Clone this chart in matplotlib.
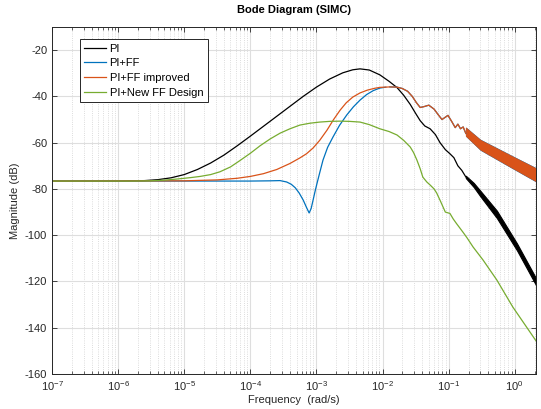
import numpy as np
import matplotlib.pyplot as plt

plt.rcParams['font.family'] = ['Liberation Sans', 'DejaVu Sans']
plt.rcParams['mathtext.fontset'] = 'custom'
plt.rcParams['mathtext.rm'] = 'Liberation Sans'
plt.rcParams['mathtext.it'] = 'Liberation Sans'
plt.rcParams['axes.unicode_minus'] = False

# values: log10(frequency in rad/s) and magnitude in dB
pi_logw = [-7, -6, -5.6, -5.4, -5.2, -5.0, -4.8, -4.6, -4.4, -4.2, -4.0, -3.8,
           -3.6, -3.4, -3.2, -3.0, -2.8, -2.6, -2.45, -2.34, -2.2, -2.04, -1.9,
           -1.78, -1.68, -1.58, -1.5, -1.43, -1.36, -1.28, -1.2, -1.13, -1.05,
           -0.98, -0.92, -0.86, -0.80, -0.74]
pi_mag = [-76.6, -76.6, -76.4, -76.0, -75.2, -73.8, -71.6, -68.8, -65.4, -61.4,
          -57.2, -52.9, -48.6, -44.3, -40.0, -36.0, -32.5, -29.8, -28.5, -28.1,
          -28.6, -30.7, -33.5, -36.2, -39.5, -43.5, -47.3, -50.5, -52.8, -54.0,
          -56.5, -60.0, -63.0, -64.8, -66.5, -70.0, -72.0, -74.8]
# dense ripple at high frequency: upper / lower edge of the band
pi_tail_logw = [-0.74, -0.62, -0.52, -0.27, 0.035, 0.33]
pi_tail_hi = [-74.3, -77.4, -80.8, -89.4, -103.6, -119.0]
pi_tail_lo = [-75.3, -79.2, -83.2, -92.6, -106.6, -122.0]

ff_logw = [-7, -4.0, -3.7, -3.55, -3.45, -3.38, -3.32, -3.26, -3.20, -3.15,
           -3.11, -3.08, -3.05, -3.02, -2.99, -2.95, -2.90, -2.83, -2.75, -2.65,
           -2.54, -2.44, -2.34, -2.24, -2.14, -2.04, -1.95]
ff_mag = [-76.6, -76.6, -76.5, -76.4, -77.0, -78.0, -79.5, -81.8, -84.8, -88.0,
          -90.4, -88.5, -84.8, -81.0, -77.5, -73.0, -67.5, -62.0, -57.6, -52.5,
          -48.0, -44.5, -41.6, -39.2, -37.5, -36.4, -36.0]

imp_logw = [-7, -5, -4.5, -4.2, -4.0, -3.8, -3.6, -3.4, -3.25, -3.15, -3.05,
            -2.95, -2.84, -2.74, -2.64, -2.55, -2.45, -2.34, -2.23, -2.12,
            -2.04, -1.95, -1.89, -1.78, -1.70, -1.62, -1.55, -1.49, -1.43,
            -1.37, -1.30, -1.22, -1.15, -1.10, -1.05, -1.01, -0.95, -0.90,
            -0.86, -0.82, -0.78, -0.74]
imp_mag = [-76.6, -76.5, -76.1, -75.4, -74.6, -73.4, -71.6, -69.0, -66.6, -64.8,
           -62.3, -59.0, -54.6, -50.0, -45.9, -42.8, -40.3, -38.5, -37.3, -36.5,
           -36.1, -36.0, -35.9, -36.0, -36.6, -37.8, -40.0, -42.6, -44.8, -44.4,
           -43.8, -45.5, -48.2, -50.0, -49.0, -48.2, -51.0, -53.5, -52.0, -54.0,
           -53.2, -56.0]
imp_tail_logw = [-0.74, -0.52, -0.03, 0.33]
imp_tail_hi = [-53.5, -58.8, -66.0, -71.2]
imp_tail_lo = [-57.0, -63.0, -71.0, -76.8]

new_logw = [-7, -5.8, -5.5, -5.3, -5.1, -4.9, -4.76, -4.6, -4.46, -4.3, -4.16,
            -4.0, -3.85, -3.7, -3.55, -3.4, -3.25, -3.1, -2.95, -2.8, -2.64,
            -2.5, -2.34, -2.2, -2.04, -1.9, -1.78, -1.68, -1.58, -1.53, -1.48,
            -1.43, -1.39, -1.33, -1.28, -1.22, -1.18, -1.12, -1.05, -0.98,
            -0.93, -0.88, -0.83, -0.77, -0.72, -0.63, -0.48, -0.27, -0.03, 0.33]
new_mag = [-76.6, -76.6, -76.5, -76.2, -75.7, -75.1, -74.6, -73.8, -72.6, -70.5,
           -67.8, -64.6, -61.3, -58.4, -55.9, -54.0, -52.4, -51.6, -51.1, -50.8,
           -50.7, -50.8, -51.1, -52.2, -54.0, -55.2, -56.7, -59.0, -61.9, -64.3,
           -67.5, -71.3, -74.9, -77.0, -78.3, -80.0, -81.8, -85.5, -90.0, -90.6,
           -93.0, -95.0, -96.9, -99.2, -101.2, -105.1, -110.7, -119.4, -131.0,
           -146.0]

labels = ['PI', 'PI+FF', 'PI+FF improved', 'PI+New FF Design']
colors = ['black', '#0072BD', '#D95319', '#77AC30']

fig = plt.figure(figsize=(5.41, 4.09), dpi=100)
ax = fig.add_axes([0.0961, 0.0856, 0.8947, 0.8484])

def w(lw):
    return 10 ** np.array(lw)

lw = 0.9
ax.plot(w(pi_logw), pi_mag, color=colors[0], lw=lw, label=labels[0])
ax.fill_between(w(pi_tail_logw), pi_tail_lo, pi_tail_hi, color=colors[0], lw=0.8,
                edgecolor=colors[0])

# PI+FF coincides with the improved design above ~1e-2 rad/s
ax.plot(w(ff_logw), ff_mag, color=colors[1], lw=lw, label=labels[1])
ax.plot(w(imp_logw[22:]), imp_mag[22:], color=colors[1], lw=lw)
ax.fill_between(w(imp_tail_logw), np.array(imp_tail_lo) - 0.3,
                np.array(imp_tail_hi) + 0.3, color=colors[1], lw=0)

ax.plot(w(imp_logw), imp_mag, color=colors[2], lw=lw, label=labels[2])
ax.fill_between(w(imp_tail_logw), imp_tail_lo, imp_tail_hi, color=colors[2], lw=0.6,
                edgecolor=colors[2])

ax.plot(w(new_logw), new_mag, color=colors[3], lw=lw, label=labels[3])

ax.set_xscale('log')
ax.set_xlim(1e-7, 2.1)
ax.set_ylim(-160, -10)
ax.set_yticks(np.arange(-160, -19, 20))
ax.set_xticks([1e-7, 1e-6, 1e-5, 1e-4, 1e-3, 1e-2, 1e-1, 1e0])

ax.grid(True, which='major', color='#dedede', lw=0.8, ls='-')
ax.grid(True, which='minor', axis='x', color='#d0d0d0', lw=0.6, ls=':')
ax.set_axisbelow(True)

ax.tick_params(which='both', direction='in', top=True, right=True, labelsize=8,
               colors='#262626', labelcolor='#262626')
ax.tick_params(which='major', length=3.5, width=0.6)
ax.tick_params(which='minor', length=2, width=0.5)
for s in ax.spines.values():
    s.set_color('#262626')
    s.set_linewidth(0.7)

ax.set_title('Bode Diagram (SIMC)', fontsize=8, fontweight='bold', pad=10)
ax.set_xlabel('Frequency  (rad/s)', fontsize=8, color='#262626', labelpad=2)
ax.set_ylabel('Magnitude (dB)', fontsize=8, color='#262626')
ax.yaxis.set_label_coords(-0.066, 0.5)

leg = ax.legend(loc='upper left', bbox_to_anchor=(0.057, 0.965), fontsize=8,
                frameon=True, fancybox=False, edgecolor='#262626', framealpha=1,
                handlelength=2.0, handletextpad=0.3, borderpad=0.4,
                labelspacing=0.42, borderaxespad=0)
leg.get_frame().set_linewidth(0.7)

fig.savefig('out.png', dpi=100)
